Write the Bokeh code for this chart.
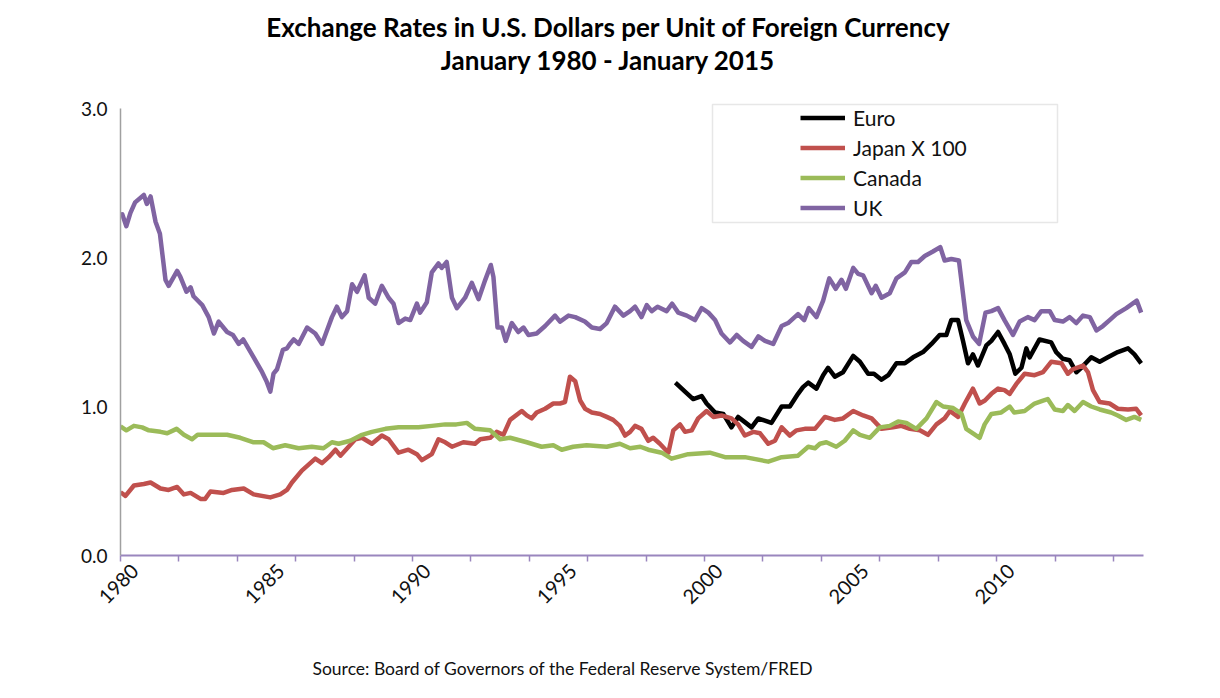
import math
from bokeh.plotting import figure
from bokeh.models import Range1d, FixedTicker, Legend, LegendItem, Title, Label, BoxAnnotation, PrintfTickFormatter
from bokeh.embed import file_html
from bokeh.resources import INLINE

# ---------------- data (decimal year, USD per unit) ----------------
uk_t = [1980.00, 1980.06, 1980.20, 1980.34, 1980.50, 1980.80, 1980.90, 1981.03, 1981.20, 1981.35,
        1981.54, 1981.65, 1981.94, 1982.05, 1982.26, 1982.40, 1982.50, 1982.80, 1983.02, 1983.20,
        1983.36, 1983.65, 1983.85, 1984.05, 1984.20, 1984.56, 1984.85, 1985.00, 1985.13, 1985.24,
        1985.36, 1985.56, 1985.70, 1985.80, 1985.93, 1986.10, 1986.39, 1986.67, 1986.90, 1987.07,
        1987.24, 1987.41, 1987.58, 1987.76, 1987.93, 1988.10, 1988.36, 1988.50, 1988.72, 1988.95,
        1989.18, 1989.35, 1989.52, 1989.75, 1989.92, 1990.15, 1990.26, 1990.49, 1990.66, 1990.89,
        1991.00, 1991.17, 1991.35, 1991.52, 1991.80, 1992.03, 1992.26, 1992.49, 1992.68, 1992.77,
        1992.91, 1993.06, 1993.19, 1993.40, 1993.62, 1993.80, 1993.97, 1994.25, 1994.54, 1994.88,
        1995.05, 1995.34, 1995.57, 1995.90, 1996.14, 1996.42, 1996.65, 1996.93, 1997.22, 1997.45,
        1997.62, 1997.84, 1998.02, 1998.19, 1998.39, 1998.70, 1998.89, 1999.10, 1999.39, 1999.67,
        1999.90, 2000.13, 2000.36, 2000.58, 2000.87, 2001.10, 2001.32, 2001.61, 2001.84, 2002.07,
        2002.35, 2002.64, 2002.86, 2003.20, 2003.41, 2003.57, 2003.83, 2004.06, 2004.27, 2004.49,
        2004.69, 2004.84, 2005.09, 2005.26, 2005.43, 2005.72, 2005.86, 2006.06, 2006.34, 2006.57,
        2006.86, 2007.08, 2007.31, 2007.54, 2007.82, 2008.07, 2008.22, 2008.45, 2008.71, 2008.96,
        2009.19, 2009.40, 2009.62, 2009.82, 2010.05, 2010.27, 2010.56, 2010.79, 2011.07, 2011.30,
        2011.53, 2011.82, 2011.99, 2012.27, 2012.50, 2012.73, 2012.96, 2013.19, 2013.42, 2013.64,
        2013.87, 2014.10, 2014.44, 2014.80, 2014.95]
uk_v = [2.27, 2.29, 2.21, 2.30, 2.37, 2.42, 2.36, 2.41, 2.24, 2.16,
        1.85, 1.81, 1.91, 1.87, 1.77, 1.80, 1.74, 1.68, 1.60, 1.49,
        1.57, 1.50, 1.48, 1.42, 1.45, 1.33, 1.23, 1.17, 1.10, 1.22,
        1.25, 1.38, 1.39, 1.42, 1.45, 1.42, 1.53, 1.49, 1.42, 1.51,
        1.60, 1.67, 1.60, 1.64, 1.82, 1.77, 1.88, 1.73, 1.69, 1.81,
        1.73, 1.69, 1.56, 1.59, 1.58, 1.69, 1.63, 1.70, 1.90, 1.96,
        1.93, 1.97, 1.73, 1.66, 1.73, 1.83, 1.72, 1.85, 1.95, 1.87,
        1.53, 1.53, 1.44, 1.56, 1.50, 1.53, 1.48, 1.49, 1.54, 1.61,
        1.57, 1.61, 1.60, 1.57, 1.53, 1.52, 1.56, 1.67, 1.61, 1.64,
        1.67, 1.60, 1.68, 1.64, 1.67, 1.64, 1.69, 1.63, 1.61, 1.58,
        1.66, 1.63, 1.58, 1.49, 1.43, 1.48, 1.44, 1.40, 1.47, 1.44,
        1.42, 1.54, 1.56, 1.62, 1.58, 1.66, 1.60, 1.71, 1.86, 1.79,
        1.85, 1.79, 1.93, 1.89, 1.88, 1.76, 1.81, 1.73, 1.76, 1.86,
        1.90, 1.97, 1.97, 2.01, 2.04, 2.07, 1.98, 1.99, 1.98, 1.58,
        1.47, 1.42, 1.63, 1.64, 1.66, 1.58, 1.48, 1.57, 1.60, 1.58,
        1.64, 1.64, 1.58, 1.57, 1.60, 1.56, 1.61, 1.60, 1.51, 1.54,
        1.58, 1.62, 1.66, 1.71, 1.63]

canada_t = [1980.00, 1980.20, 1980.46, 1980.74, 1980.97, 1981.37, 1981.60, 1981.92, 1982.17, 1982.45,
            1982.64, 1983.08, 1983.65, 1984.10, 1984.56, 1984.90, 1985.22, 1985.64, 1986.10, 1986.55,
            1986.95, 1987.24, 1987.47, 1987.87, 1988.27, 1988.61, 1989.07, 1989.52, 1990.20, 1990.66,
            1991.12, 1991.50, 1991.86, 1992.14, 1992.66, 1993.00, 1993.34, 1993.91, 1994.42, 1994.82,
            1995.11, 1995.50, 1995.96, 1996.65, 1997.10, 1997.45, 1997.80, 1998.07, 1998.53, 1998.87,
            1999.44, 2000.18, 2000.70, 2001.38, 2002.18, 2002.64, 2003.20, 2003.55, 2003.78, 2003.95,
            2004.17, 2004.51, 2004.80, 2005.09, 2005.32, 2005.66, 2006.00, 2006.34, 2006.63, 2006.91,
            2007.25, 2007.60, 2007.94, 2008.17, 2008.51, 2008.80, 2008.96, 2009.19, 2009.42, 2009.59,
            2009.82, 2010.16, 2010.45, 2010.60, 2010.96, 2011.30, 2011.59, 2011.75, 2011.99, 2012.27,
            2012.44, 2012.67, 2012.96, 2013.24, 2013.53, 2013.92, 2014.15, 2014.44, 2014.72, 2014.95]
canada_v = [0.866, 0.84, 0.87, 0.86, 0.84, 0.83, 0.82, 0.85, 0.81, 0.78,
            0.81, 0.81, 0.81, 0.79, 0.76, 0.76, 0.72, 0.74, 0.72, 0.73,
            0.72, 0.76, 0.75, 0.77, 0.81, 0.83, 0.85, 0.86, 0.86, 0.87,
            0.88, 0.88, 0.89, 0.85, 0.84, 0.78, 0.79, 0.76, 0.73, 0.74,
            0.71, 0.73, 0.74, 0.73, 0.75, 0.72, 0.73, 0.71, 0.69, 0.65,
            0.68, 0.69, 0.66, 0.66, 0.63, 0.66, 0.67, 0.73, 0.72, 0.75,
            0.76, 0.73, 0.77, 0.84, 0.81, 0.79, 0.86, 0.87, 0.90, 0.89,
            0.85, 0.92, 1.03, 1.00, 0.99, 0.95, 0.85, 0.82, 0.79, 0.88,
            0.95, 0.96, 1.00, 0.96, 0.97, 1.02, 1.04, 1.05, 0.98, 0.97,
            1.01, 0.97, 1.03, 1.00, 0.98, 0.96, 0.94, 0.91, 0.93, 0.91]

japan_t = [1980.00, 1980.17, 1980.46, 1980.80, 1981.03, 1981.37, 1981.65, 1981.94, 1982.17, 1982.40,
           1982.74, 1982.90, 1983.08, 1983.53, 1983.82, 1984.22, 1984.56, 1985.13, 1985.47, 1985.70,
           1985.87, 1986.21, 1986.67, 1986.90, 1987.13, 1987.36, 1987.53, 1987.81, 1988.04, 1988.27,
           1988.61, 1988.95, 1989.18, 1989.52, 1989.86, 1990.15, 1990.32, 1990.66, 1990.89, 1991.12,
           1991.35, 1991.74, 1992.14, 1992.32, 1992.66, 1992.88, 1993.11, 1993.34, 1993.74, 1993.91,
           1994.08, 1994.25, 1994.54, 1994.82, 1995.05, 1995.22, 1995.39, 1995.57, 1995.74, 1995.91,
           1996.14, 1996.42, 1996.65, 1996.87, 1997.10, 1997.28, 1997.45, 1997.62, 1997.84, 1998.07,
           1998.24, 1998.47, 1998.76, 1998.93, 1999.16, 1999.33, 1999.56, 1999.78, 2000.07, 2000.30,
           2000.58, 2000.92, 2001.15, 2001.38, 2001.67, 2001.90, 2002.18, 2002.41, 2002.64, 2002.92,
           2003.15, 2003.43, 2003.78, 2004.12, 2004.46, 2004.74, 2005.09, 2005.43, 2005.72, 2006.06,
           2006.45, 2006.74, 2007.03, 2007.37, 2007.65, 2007.94, 2008.22, 2008.40, 2008.68, 2008.91,
           2009.19, 2009.42, 2009.60, 2009.82, 2010.05, 2010.27, 2010.45, 2010.67, 2010.96, 2011.30,
           2011.59, 2011.87, 2012.22, 2012.44, 2012.61, 2012.96, 2013.13, 2013.30, 2013.53, 2013.87,
           2014.15, 2014.50, 2014.78, 2014.95]
japan_v = [0.425, 0.40, 0.47, 0.48, 0.49, 0.45, 0.44, 0.46, 0.41, 0.42,
           0.38, 0.38, 0.43, 0.42, 0.44, 0.45, 0.41, 0.39, 0.41, 0.44,
           0.49, 0.57, 0.65, 0.62, 0.66, 0.71, 0.67, 0.73, 0.78, 0.79,
           0.75, 0.805, 0.78, 0.69, 0.71, 0.68, 0.64, 0.68, 0.78, 0.76,
           0.73, 0.76, 0.75, 0.78, 0.79, 0.83, 0.81, 0.91, 0.97, 0.94,
           0.92, 0.96, 0.985, 1.02, 1.02, 1.03, 1.20, 1.17, 1.04, 0.985,
           0.96, 0.95, 0.93, 0.91, 0.87, 0.805, 0.83, 0.87, 0.85, 0.77,
           0.79, 0.75, 0.69, 0.84, 0.88, 0.83, 0.84, 0.92, 0.97, 0.93,
           0.94, 0.92, 0.88, 0.805, 0.83, 0.82, 0.75, 0.77, 0.86, 0.805,
           0.84, 0.85, 0.85, 0.93, 0.91, 0.92, 0.97, 0.94, 0.92, 0.85,
           0.86, 0.87, 0.85, 0.84, 0.81, 0.88, 0.92, 0.97, 0.93, 1.02,
           1.12, 1.02, 1.04, 1.085, 1.12, 1.11, 1.085, 1.15, 1.22, 1.21,
           1.23, 1.30, 1.29, 1.22, 1.25, 1.275, 1.23, 1.11, 1.03, 1.02,
           0.985, 0.98, 0.985, 0.94]

euro_t = [1999.00, 1999.33, 1999.61, 1999.90, 2000.07, 2000.36, 2000.64, 2000.92, 2001.15, 2001.38,
          2001.61, 2001.84, 2002.29, 2002.64, 2002.92, 2003.20, 2003.37, 2003.55, 2003.83, 2004.06,
          2004.23, 2004.46, 2004.74, 2005.09, 2005.32, 2005.60, 2005.80, 2006.06, 2006.29, 2006.57,
          2006.86, 2007.14, 2007.48, 2007.77, 2008.05, 2008.28, 2008.45, 2008.68, 2008.85, 2009.02,
          2009.19, 2009.36, 2009.65, 2009.82, 2010.05, 2010.27, 2010.45, 2010.64, 2010.85, 2011.02,
          2011.13, 2011.47, 2011.87, 2012.04, 2012.27, 2012.50, 2012.73, 2012.90, 2013.24, 2013.53,
          2013.81, 2014.15, 2014.50, 2014.72, 2014.95]
euro_v = [1.16, 1.10, 1.05, 1.07, 1.02, 0.96, 0.95, 0.86, 0.93, 0.895,
          0.86, 0.92, 0.89, 1.00, 1.00, 1.085, 1.13, 1.16, 1.12, 1.21,
          1.26, 1.20, 1.23, 1.34, 1.30, 1.22, 1.22, 1.18, 1.21, 1.29,
          1.29, 1.33, 1.365, 1.42, 1.48, 1.48, 1.58, 1.58, 1.44, 1.29,
          1.35, 1.275, 1.41, 1.44, 1.50, 1.42, 1.35, 1.22, 1.26, 1.39,
          1.33, 1.45, 1.43, 1.365, 1.32, 1.31, 1.23, 1.26, 1.33, 1.30,
          1.33, 1.365, 1.39, 1.35, 1.29]

label_years = [1980, 1985, 1990, 1995, 2000, 2005, 2010]
minor_years = list(range(1980, 2015, 2))
y_ticks = [0.0, 1.0, 2.0, 3.0]

title_1 = "Exchange Rates in U.S. Dollars per Unit of Foreign Currency"
title_2 = "January 1980 - January 2015"
source_text = "Source: Board of Governors of the Federal Reserve System/FRED"

FONT = "Lato"
AXIS_PURPLE = "#9A86BE"
LABEL_SHIFT = 0.5   # Excel places rotated category labels to the right of the tick

# layout: plotting area of the value axis spans y=108..555 px; the frame is extended
# upward to the canvas top so that titles and legend (annotations) are not clipped.
W, H = 1220, 698
AX_TOP, AX_BOTTOM, AX_LEFT, AX_RIGHT = 108, 555, 120, 1143
Y_MAX = 3.0
y_end = Y_MAX * AX_BOTTOM / (AX_BOTTOM - AX_TOP)

p = figure(width=W, height=H, x_range=Range1d(1980, 2015.03), y_range=Range1d(0, y_end),
           output_backend="svg", toolbar_location=None,
           min_border_left=AX_LEFT, min_border_right=W - AX_RIGHT,
           min_border_top=0, min_border_bottom=H - AX_BOTTOM)
p.outline_line_color = None
p.xgrid.grid_line_color = None
p.ygrid.grid_line_color = None
p.background_fill_color = "white"
p.border_fill_color = "white"

# x axis
label_pos = [y + LABEL_SHIFT for y in label_years]
p.xaxis.ticker = FixedTicker(ticks=label_pos, minor_ticks=minor_years)
p.xaxis.major_label_overrides = {pos: str(y) for pos, y in zip(label_pos, label_years)}
p.xaxis.major_tick_out = 0
p.xaxis.major_tick_in = 0
p.xaxis.minor_tick_out = 6
p.xaxis.minor_tick_in = 0
p.xaxis.minor_tick_line_color = AXIS_PURPLE
p.xaxis.minor_tick_line_width = 1.5
p.xaxis.axis_line_color = AXIS_PURPLE
p.xaxis.axis_line_width = 2
p.xaxis.major_label_orientation = math.pi / 4
p.xaxis.major_label_text_font = FONT
p.xaxis.major_label_text_font_size = "20px"
p.xaxis.major_label_text_color = "#111111"
p.xaxis.major_label_standoff = 6

# y axis
p.yaxis.ticker = FixedTicker(ticks=y_ticks)
p.yaxis.bounds = (0, Y_MAX)
p.yaxis.formatter = PrintfTickFormatter(format="%.1f")
p.yaxis.major_tick_out = 0
p.yaxis.major_tick_in = 0
p.yaxis.minor_tick_out = 0
p.yaxis.minor_tick_in = 0
p.yaxis.axis_line_color = "#A0A0A0"
p.yaxis.axis_line_width = 1.5
p.yaxis.major_label_text_font = FONT
p.yaxis.major_label_text_font_size = "19px"
p.yaxis.major_label_text_color = "#111111"
p.yaxis.major_label_standoff = 13

# lines (Excel series order -> later series on top)
r_euro = p.line(euro_t, euro_v, line_color="black", line_width=4.5, line_join="round")
r_japan = p.line(japan_t, japan_v, line_color="#C0504D", line_width=4.5, line_join="round")
r_canada = p.line(canada_t, canada_v, line_color="#9BBB59", line_width=4.5, line_join="round")
r_uk = p.line(uk_t, uk_v, line_color="#8064A2", line_width=4.5, line_join="round")

# legend frame (screen units, relative to the frame's bottom-left)
legend_box = BoxAnnotation(left=592, right=937, top=451, bottom=333,
                           left_units="screen", right_units="screen",
                           top_units="screen", bottom_units="screen",
                           fill_color="white", fill_alpha=1.0,
                           line_color="#B0B0B0", line_width=1.5, level="annotation")
p.add_layout(legend_box)

legend = Legend(items=[LegendItem(label="Euro", renderers=[r_euro]),
                       LegendItem(label="Japan X 100", renderers=[r_japan]),
                       LegendItem(label="Canada", renderers=[r_canada]),
                       LegendItem(label="UK", renderers=[r_uk])],
                location=(680, 335), padding=0, spacing=5,
                glyph_width=45, glyph_height=25, label_height=25, label_standoff=8,
                label_text_font=FONT, label_text_font_size="21px", label_text_color="#111111",
                border_line_alpha=0, background_fill_alpha=0)
p.add_layout(legend, "center")

# titles
p.add_layout(Label(x=488, y=529, x_units="screen", y_units="screen", text=title_1,
                   text_align="center", text_baseline="middle", text_font=FONT,
                   text_font_style="bold", text_font_size="26px", text_color="black"))
p.add_layout(Label(x=488, y=496, x_units="screen", y_units="screen", text=title_2,
                   text_align="center", text_baseline="middle", text_font=FONT,
                   text_font_style="bold", text_font_size="26px", text_color="black"))

# source line below the axis (two leading blank lines push it down inside its panel)
p.add_layout(Title(text="\n\n" + source_text, align="left", offset=192, text_font=FONT,
                   text_font_style="normal", text_font_size="17.5px", text_color="#111111",
                   standoff=0), "below")

open("out.html", "w").write(file_html(p, INLINE))
